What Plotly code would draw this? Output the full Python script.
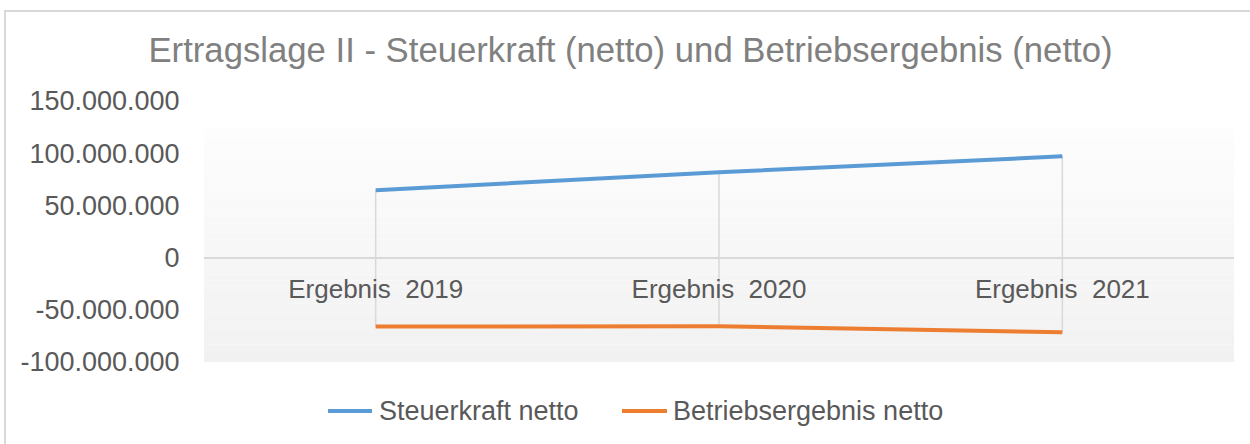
import plotly.graph_objects as go

# ---- data ----
categories = ["Ergebnis\u00a0 2019", "Ergebnis\u00a0 2020", "Ergebnis\u00a0 2021"]
steuerkraft_netto = [64_500_000, 81_700_000, 97_000_000]
betriebsergebnis_netto = [-66_100_000, -65_800_000, -71_600_000]
series_names = ["Steuerkraft netto", "Betriebsergebnis netto"]
y_tick_values = [-100_000_000, -50_000_000, 0, 50_000_000, 100_000_000, 150_000_000]
y_tick_labels = ["-100.000.000", "-50.000.000", "0", "50.000.000", "100.000.000", "150.000.000"]
title_text = "Ertragslage II - Steuerkraft (netto) und Betriebsergebnis (netto)"

# ---- geometry (pixels) ----
W, H = 1250, 444
L, R, T, B = 204, 16, 101, 82
plot_h = H - T - B
plot_w = W - L - R


def py(pix):  # pixel row -> paper y
    return (H - B - pix) / plot_h


def px(pix):  # pixel column -> paper x
    return (pix - L) / plot_w


FONT = "Liberation Sans, Arial, sans-serif"
TXT = "#595959"
BLUE = "#5b9bd5"
ORANGE = "#ed7d31"
GRID = "#d9d9d9"
colors = [BLUE, ORANGE]

fig = go.Figure()

# high-low lines between the two series
hl_x, hl_y = [], []
for c, s, b in zip(categories, steuerkraft_netto, betriebsergebnis_netto):
    hl_x += [c, c, None]
    hl_y += [s, b, None]
fig.add_trace(go.Scatter(x=hl_x, y=hl_y, mode="lines",
                         line=dict(color=GRID, width=1.5),
                         showlegend=False, hoverinfo="skip"))

fig.add_trace(go.Scatter(x=categories, y=steuerkraft_netto, mode="lines",
                         name=series_names[0], line=dict(color=BLUE, width=4),
                         showlegend=False))
fig.add_trace(go.Scatter(x=categories, y=betriebsergebnis_netto, mode="lines",
                         name=series_names[1], line=dict(color=ORANGE, width=4),
                         showlegend=False))

# gradient plot-area fill (decoration)
shapes = []
top_frac = py(129)
n = 40
c_top, c_bot = 253, 241
for i in range(n):
    y1 = top_frac * (1 - i / n)
    y0 = top_frac * (1 - (i + 1) / n)
    v = round(c_top + (c_bot - c_top) * (i + 0.5) / n)
    shapes.append(dict(type="rect", xref="paper", yref="paper",
                       x0=0, x1=1, y0=y0, y1=y1, layer="below",
                       line=dict(width=0), fillcolor=f"rgb({v},{v},{v})"))
# chart border
shapes.append(dict(type="rect", xref="paper", yref="paper",
                   x0=px(5), x1=px(1262), y0=py(456), y1=py(11),
                   line=dict(color=GRID, width=2), fillcolor="rgba(0,0,0,0)"))

# manual legend (decoration)
annotations = []
legend_items = [(328, 372, 377), (622, 667, 671)]
for (lx0, lx1, tx), name, col in zip(legend_items, series_names, colors):
    shapes.append(dict(type="line", xref="paper", yref="paper",
                       x0=px(lx0), x1=px(lx1), y0=py(411), y1=py(411),
                       line=dict(color=col, width=4)))
    annotations.append(dict(text=name, xref="paper", yref="paper",
                            x=px(tx), y=py(411), xanchor="left", yanchor="middle",
                            showarrow=False,
                            font=dict(family=FONT, size=27, color=TXT)))

fig.update_layout(
    width=W, height=H,
    margin=dict(l=L, r=R, t=T, b=B),
    paper_bgcolor="white", plot_bgcolor="white",
    font=dict(family=FONT, color=TXT, size=26),
    title=dict(text=title_text, x=630.5 / W, xanchor="center",
               y=1 - 50 / H, yanchor="middle",
               font=dict(family=FONT, size=34.7, color="#808080")),
    shapes=shapes,
    annotations=annotations,
    showlegend=False,
    xaxis=dict(type="category", categoryorder="array", categoryarray=categories,
               range=[-0.5, 2.5], anchor="free", position=py(258),
               showgrid=False, showline=False, zeroline=False,
               ticks="outside", ticklen=8, tickcolor="rgba(0,0,0,0)",
               tickfont=dict(family=FONT, size=26, color=TXT)),
    yaxis=dict(range=[-100_000_000, 150_000_000], tickvals=y_tick_values,
               ticktext=y_tick_labels, showgrid=False,
               zeroline=True, zerolinecolor=GRID, zerolinewidth=2,
               showline=False, ticks="outside", ticklen=18,
               tickcolor="rgba(0,0,0,0)",
               tickfont=dict(family=FONT, size=27, color=TXT)),
    hovermode=False,
)

fig.write_html("out.html", config={"displayModeBar": False},
               post_script="document.body.style.margin='0';")
